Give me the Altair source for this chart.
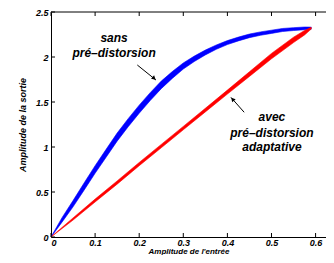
import altair as alt
import pandas as pd

# ---- data ----
blue_x = [0, 0.025, 0.05, 0.075, 0.1, 0.125, 0.15, 0.175, 0.2, 0.225, 0.25, 0.275, 0.3,
          0.325, 0.35, 0.375, 0.4, 0.425, 0.45, 0.475, 0.5, 0.525, 0.55, 0.575, 0.59]
blue_hi = [0, 0.215, 0.405, 0.60, 0.792, 0.974, 1.155, 1.315, 1.465, 1.604, 1.732, 1.838, 1.934,
           2.01, 2.077, 2.134, 2.182, 2.221, 2.255, 2.279, 2.298, 2.317, 2.326, 2.333, 2.332]
blue_lo = [0, 0.165, 0.335, 0.52, 0.708, 0.886, 1.065, 1.225, 1.375, 1.516, 1.648, 1.762, 1.866,
           1.95, 2.023, 2.086, 2.138, 2.179, 2.215, 2.241, 2.262, 2.283, 2.294, 2.303, 2.308]

red_x = [0, 0.05, 0.1, 0.15, 0.2, 0.25, 0.3, 0.35, 0.4, 0.45, 0.5, 0.55, 0.575, 0.59]
red_hi = [0, 0.212, 0.421, 0.623, 0.828, 1.029, 1.229, 1.43, 1.632, 1.836, 2.04, 2.22, 2.295, 2.33]
red_lo = [0, 0.188, 0.389, 0.587, 0.792, 0.991, 1.191, 1.39, 1.588, 1.784, 1.98, 2.16, 2.245, 2.31]

x_ticks = [0, 0.1, 0.2, 0.3, 0.4, 0.5, 0.6]
y_ticks = [0, 0.5, 1, 1.5, 2, 2.5]

note_text = ["sans", "pré–distorsion", "avec", "pré–distorsion", "adaptative"]
note_x = [0.143, 0.143, 0.501, 0.501, 0.501]
note_y = [2.214, 2.041, 1.330, 1.159, 0.996]

arrow_x = [0.1957, 0.438]
arrow_y = [1.911, 1.386]
arrow_x2 = [0.238, 0.408]
arrow_y2 = [1.744, 1.552]
head_x = [0.2338, 0.4118]
head_y = [1.762, 1.531]
head_angle = [131, 319]

FONT = "Liberation Sans"
W, H = 275, 225
X_MAX = 0.6236

blue = pd.DataFrame({"x": blue_x, "hi": blue_hi, "lo": blue_lo})
red = pd.DataFrame({"x": red_x, "hi": red_hi, "lo": red_lo})
notes = pd.DataFrame({"x": note_x, "y": note_y, "t": note_text})
arrows = pd.DataFrame({"x": arrow_x, "y": arrow_y, "x2": arrow_x2, "y2": arrow_y2})
heads = pd.DataFrame({"x": head_x, "y": head_y, "a": head_angle})
xt = pd.DataFrame({"v": x_ticks})
yt = pd.DataFrame({"v": y_ticks})
one = pd.DataFrame({"k": [0]})

xscale = alt.Scale(domain=[0, X_MAX], nice=False, zero=False)
yscale = alt.Scale(domain=[0, 2.5], nice=False)

xaxis = alt.Axis(values=x_ticks, format=".1~f", ticks=False, domain=True, domainColor="black",
                 domainWidth=1, grid=False,
                 labelFont=FONT, labelFontSize=9, labelFontStyle="italic", labelFontWeight="bold",
                 labelColor="black", labelPadding=1,
                 title="Amplitude de l'entrée", titleFont=FONT, titleFontSize=8,
                 titleFontStyle="italic", titleFontWeight="bold", titleColor="black",
                 titleY=16, titleBaseline="alphabetic")
yaxis = alt.Axis(values=y_ticks, format=".1~f", ticks=False, domain=True, domainColor="black",
                 domainWidth=1, grid=False,
                 labelFont=FONT, labelFontSize=9, labelFontStyle="italic", labelFontWeight="bold",
                 labelColor="black", labelPadding=3,
                 title="Amplitude de la sortie", titleFont=FONT, titleFontSize=9,
                 titleFontStyle="italic", titleFontWeight="bold", titleColor="black",
                 titleX=-29, titleY=112.5, titleAngle=270, titleAlign="center",
                 titleBaseline="middle")

blue_area = alt.Chart(blue).mark_area(color="#0000ff", stroke="#0000ff", strokeWidth=0.6).encode(
    x=alt.X("x:Q", scale=xscale, axis=xaxis),
    y=alt.Y("hi:Q", scale=yscale, axis=yaxis),
    y2="lo:Q",
)
red_area = alt.Chart(red).mark_area(color="#ff0000", stroke="#ff0000", strokeWidth=0.6).encode(
    x=alt.X("x:Q", scale=xscale),
    y=alt.Y("hi:Q", scale=yscale),
    y2="lo:Q",
)

tick_style = dict(color="black", strokeWidth=1)
bottom_ticks = alt.Chart(xt).mark_rule(**tick_style).encode(
    x=alt.X("v:Q", scale=xscale), y=alt.value(H), y2=alt.value(H - 4))
top_ticks = alt.Chart(xt).mark_rule(**tick_style).encode(
    x=alt.X("v:Q", scale=xscale), y=alt.value(0), y2=alt.value(4))
left_ticks = alt.Chart(yt).mark_rule(**tick_style).encode(
    y=alt.Y("v:Q", scale=yscale), x=alt.value(0), x2=alt.value(4))
top_line = alt.Chart(one).mark_rule(**tick_style).encode(
    x=alt.value(0), x2=alt.value(W), y=alt.value(0))

text = alt.Chart(notes).mark_text(font=FONT, fontSize=12, fontStyle="italic", fontWeight="bold",
                                  color="black", align="center", baseline="middle").encode(
    x=alt.X("x:Q", scale=xscale), y=alt.Y("y:Q", scale=yscale), text="t:N")

shafts = alt.Chart(arrows).mark_rule(color="black", strokeWidth=1).encode(
    x=alt.X("x:Q", scale=xscale), y=alt.Y("y:Q", scale=yscale), x2="x2:Q", y2="y2:Q")
arrowheads = alt.Chart(heads).mark_point(shape="triangle-up", filled=True, size=22,
                                         color="black", opacity=1).encode(
    x=alt.X("x:Q", scale=xscale), y=alt.Y("y:Q", scale=yscale),
    angle=alt.Angle("a:Q", scale=None))

chart = alt.layer(blue_area, red_area, bottom_ticks, top_ticks, left_ticks, top_line, text,
                  shafts, arrowheads).properties(
    width=W, height=H,
    autosize=alt.AutoSizeParams(type="none"),
    padding={"left": 43, "top": 4, "right": 0, "bottom": 18},
    background="white",
).configure_view(stroke=None)

chart.save("out.html", embed_options={"renderer": "svg", "actions": False})
